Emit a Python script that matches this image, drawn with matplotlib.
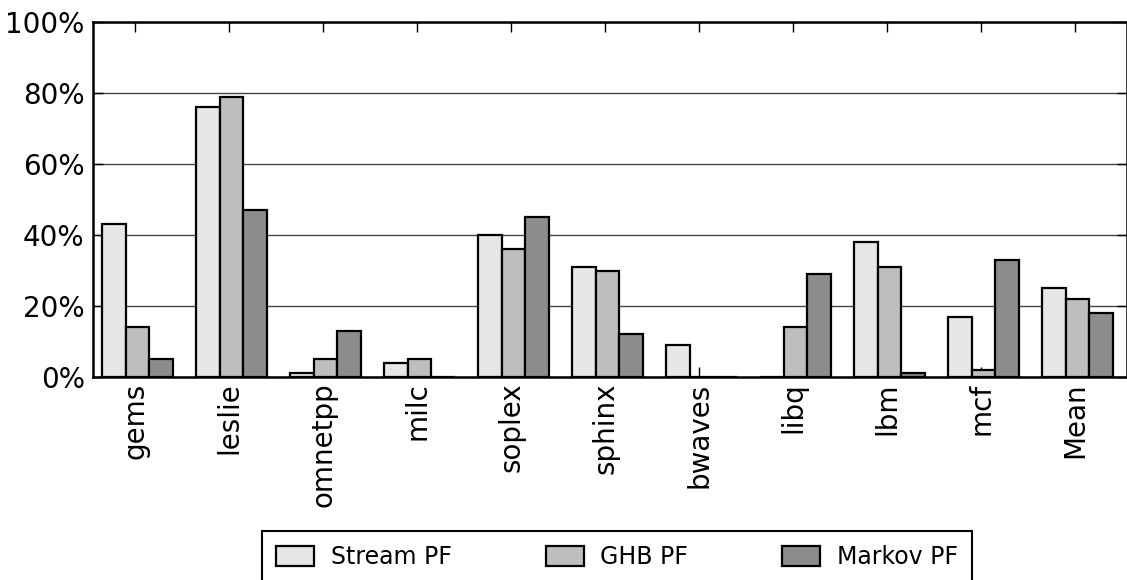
import numpy as np
import matplotlib
matplotlib.use('Agg')
import matplotlib.pyplot as plt
from matplotlib.ticker import FuncFormatter

benchmarks = ['gems', 'leslie', 'omnetpp', 'milc', 'soplex', 'sphinx',
              'bwaves', 'libq', 'lbm', 'mcf', 'Mean']
stream_pf = [43, 76, 1, 4, 40, 31, 9, 0, 38, 17, 25]
ghb_pf = [14, 79, 5, 5, 36, 30, 0, 14, 31, 2, 22]
markov_pf = [5, 47, 13, 0, 45, 12, 0, 29, 1, 33, 18]

series = [('Stream PF', stream_pf, '#e6e6e6'),
          ('GHB PF', ghb_pf, '#bebebe'),
          ('Markov PF', markov_pf, '#8c8c8c')]

fig = plt.figure(figsize=(11.27, 5.8), dpi=100)
ax = fig.add_axes([93 / 1127, 1 - 377 / 580, 1034 / 1127, 355 / 580])

ind = np.arange(len(benchmarks))
width = 0.25
for k, (name, vals, col) in enumerate(series):
    ax.bar(ind + 0.1 + k * width, vals, width, align='edge', color=col,
           edgecolor='black', linewidth=1.6, label=name, zorder=3)

ax.set_xlim(0, len(benchmarks))
ax.set_ylim(0, 100)
ax.set_yticks([0, 20, 40, 60, 80, 100])
ax.yaxis.set_major_formatter(FuncFormatter(lambda v, p: '%d%%' % v))
ax.set_xticks(ind + 0.45)
ax.set_xticklabels(benchmarks, rotation=90, fontsize=20)
ax.tick_params(axis='y', labelsize=20, pad=6)
ax.tick_params(axis='x', pad=4)
ax.tick_params(direction='in', top=True, right=True, length=7, width=1)
ax.yaxis.grid(True, color='#444444', linestyle='-', linewidth=1, zorder=0)
ax.set_axisbelow(True)
for s in ax.spines.values():
    s.set_linewidth(1.8)
    s.set_zorder(5)

leg = ax.legend(loc='upper center', bbox_to_anchor=(617 / 1127, 1 - 531 / 580),
                bbox_transform=fig.transFigure, ncol=3, fontsize=17,
                fancybox=False, framealpha=1, edgecolor='black',
                handlelength=1.6, handleheight=0.9, handletextpad=0.7,
                columnspacing=4.0, borderpad=0.6, borderaxespad=0)
leg.get_frame().set_linewidth(1.5)

fig.savefig('out.png', dpi=100, facecolor='white')
